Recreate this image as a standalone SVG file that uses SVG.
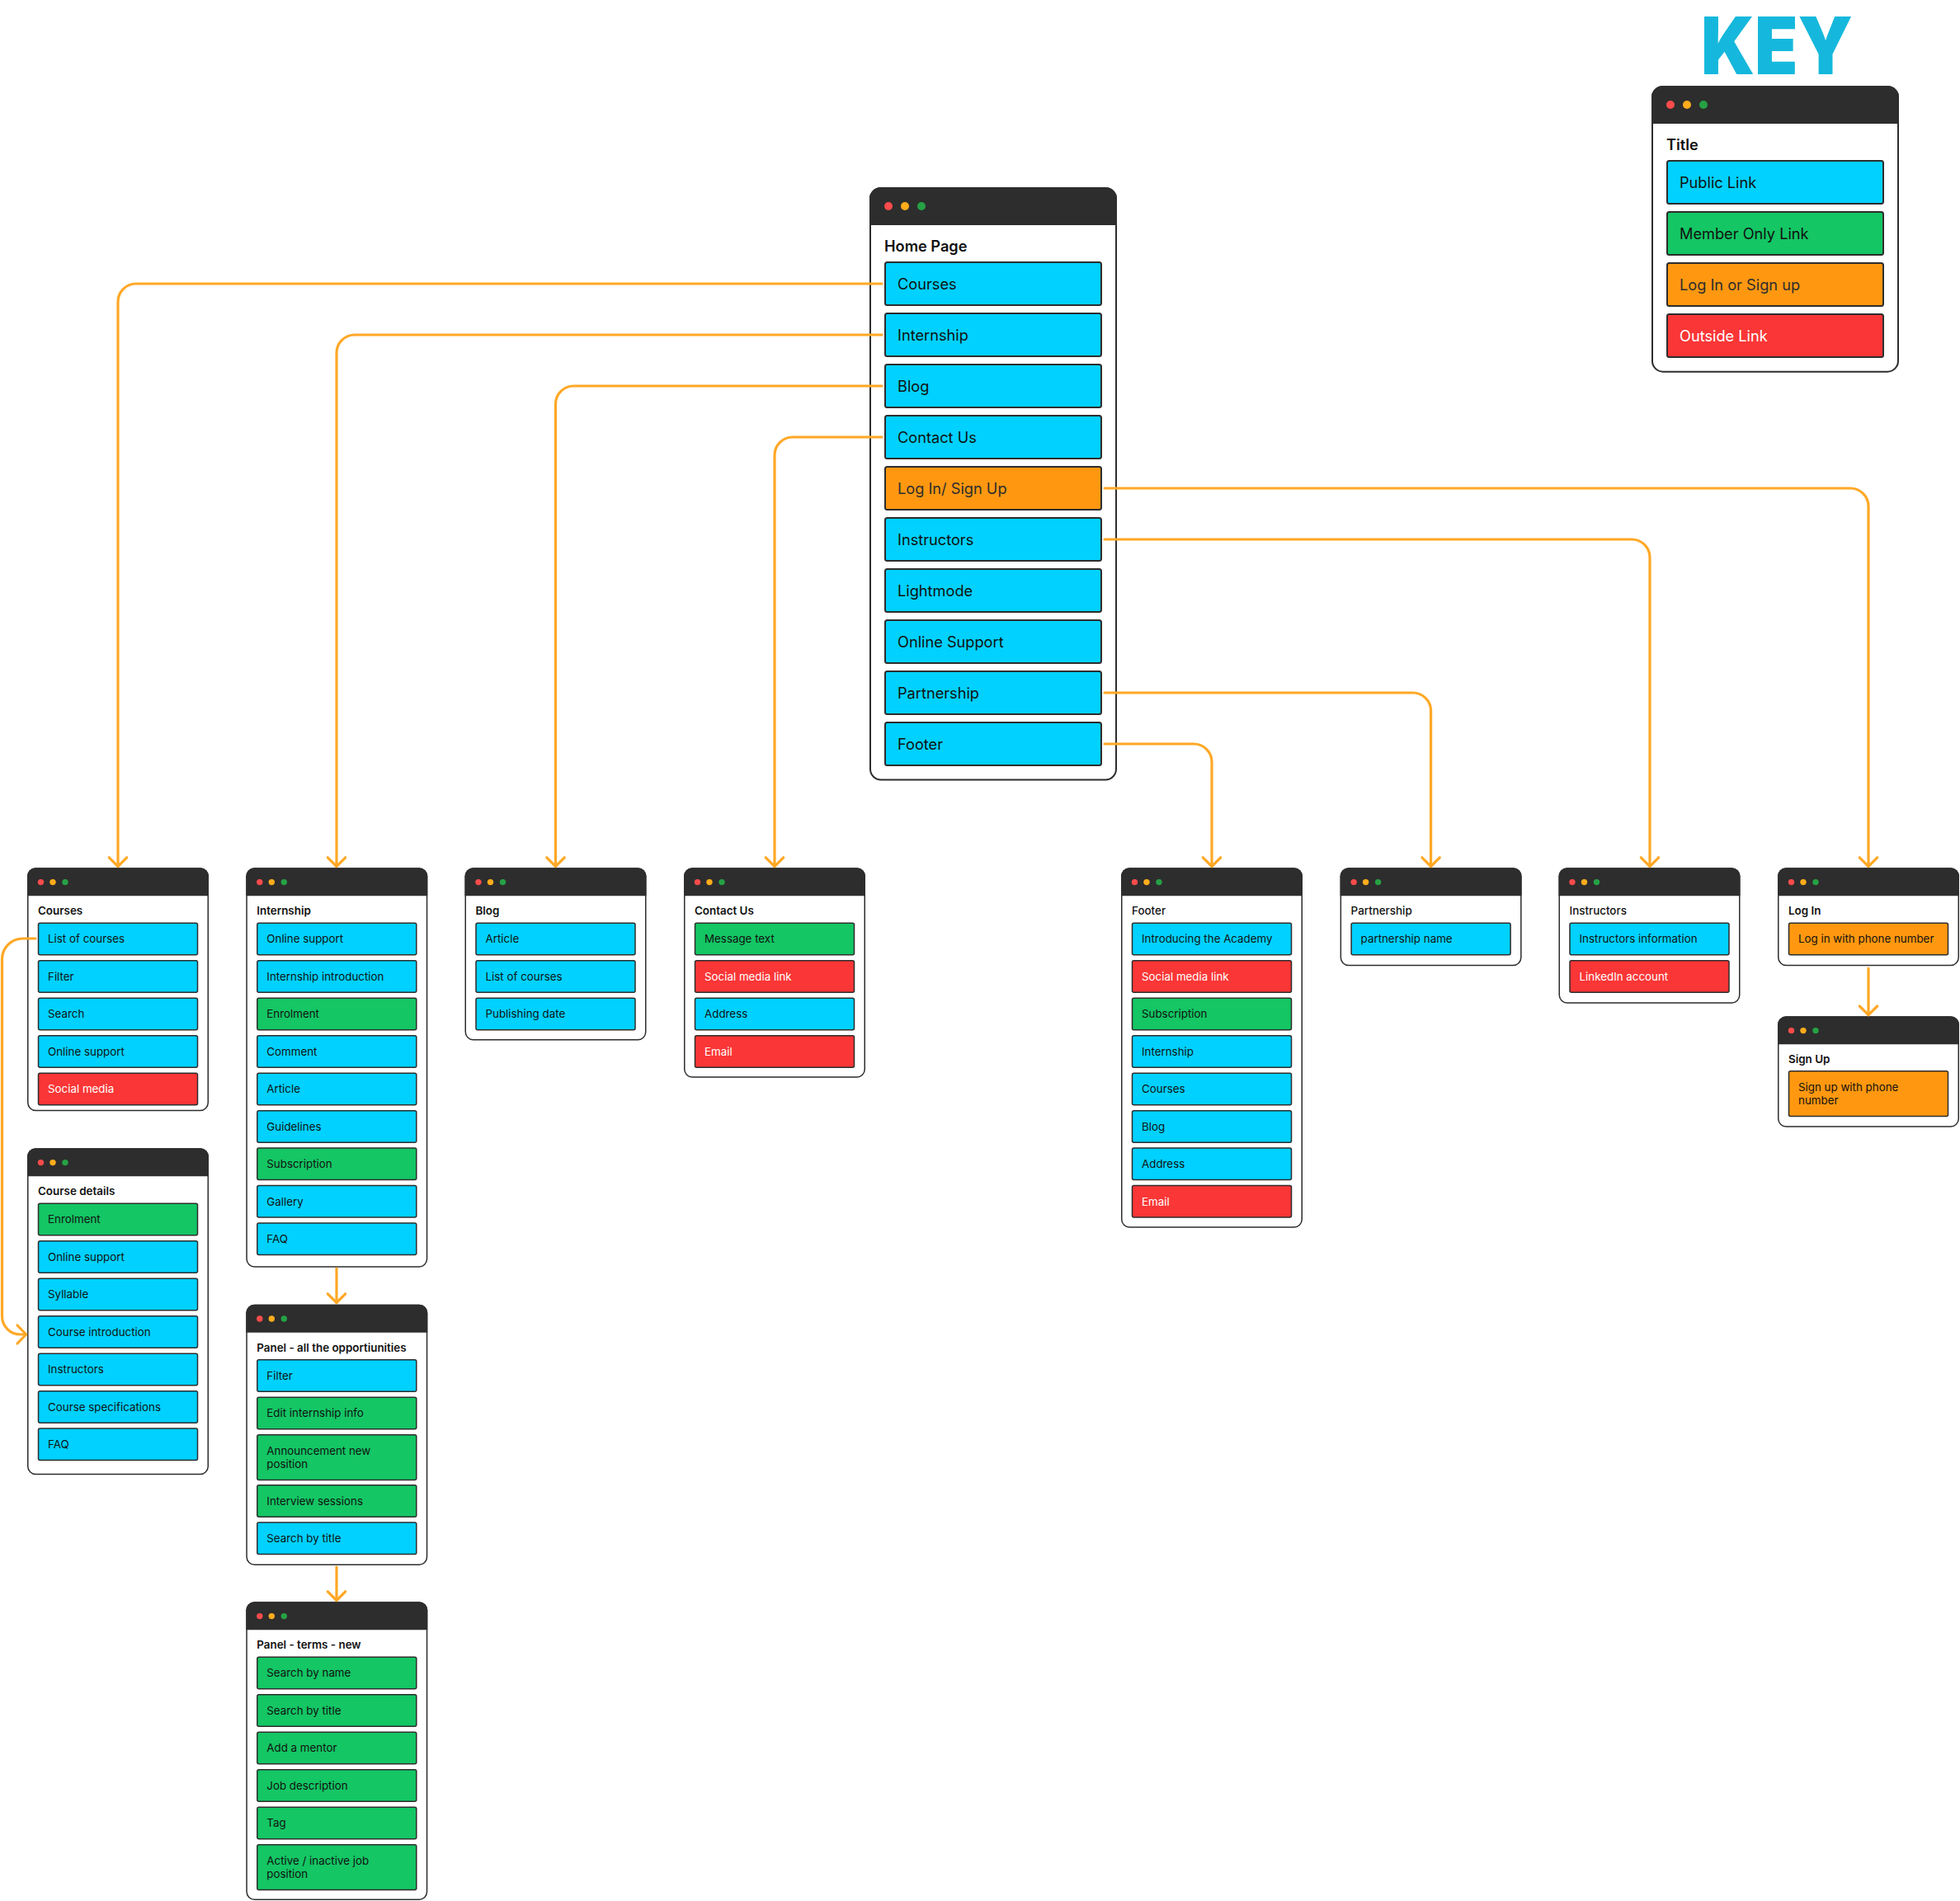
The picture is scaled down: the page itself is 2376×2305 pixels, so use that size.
<svg xmlns="http://www.w3.org/2000/svg" width="2376" height="2305" viewBox="0 0 2376 2305">
<style>
text{font-family:Inter,"Noto Sans","Liberation Sans",sans-serif;fill:#111}
.tt{font-size:13.4px;font-weight:600}
.m{font-weight:500}
.l{font-size:13.35px}
.T{font-size:18.2px;font-weight:600}
.L{font-size:18.2px}
.w{fill:#fff}
.k{fill:#2d2d2d}
.body{fill:#fff;stroke:#2d2d2d;stroke-width:1.5}
.Body{fill:#fff;stroke:#2d2d2d;stroke-width:2}
.i{width:193px;height:38.5px;rx:2px;stroke:#2d2d2d;stroke-width:1.5}
.d{height:54.7px}
.I{width:262px;height:52px;rx:2.5px;stroke:#2d2d2d;stroke-width:2}
.b{fill:#00d1ff}.g{fill:#14c664}.o{fill:#ff9810}.r{fill:#fa3636}
.c{fill:none;stroke:#ffa826;stroke-width:3.2;stroke-linecap:round;stroke-linejoin:round}
.e{marker-end:url(#a)}
</style>
<defs>
<marker id="a" markerUnits="userSpaceOnUse" markerWidth="30" markerHeight="30" refX="15" refY="15" orient="auto" overflow="visible"><path d="M4.300 4.300L15 15L4.300 25.700" fill="none" stroke="#ffa826" stroke-width="3.200" stroke-linecap="round" stroke-linejoin="round"/></marker>
<g id="hs"><path d="M0 34V10A10 10 0 0 1 10 0H210A10 10 0 0 1 220 10V34Z" fill="#2d2d2d"/><circle cx="16.500" cy="17.300" r="3.700" fill="#fb4b4b"/><circle cx="31" cy="17.300" r="3.700" fill="#ffac1c"/><circle cx="46" cy="17.300" r="3.700" fill="#26a144"/></g>
<g id="hb"><path d="M0 46V14A14 14 0 0 1 14 0H286A14 14 0 0 1 300 14V46Z" fill="#2d2d2d"/><circle cx="23" cy="23" r="5" fill="#fb4b4b"/><circle cx="43" cy="23" r="5" fill="#ffac1c"/><circle cx="63" cy="23" r="5" fill="#26a144"/></g>
</defs>

<text x="2062" y="90" textLength="184" lengthAdjust="spacingAndGlyphs" style="font-size:96px;font-weight:900;fill:#15b8dc">KEY</text>

<g id="node-home" transform="translate(1054,227)"><rect class="Body" x="1" y="1" width="298" height="717.500" rx="13"/><use href="#hb"/><text class="T" x="18" y="78">Home Page</text>
<rect class="I b" x="19" y="91"/><text class="L" x="34" y="124">Courses</text>
<rect class="I b" x="19" y="153"/><text class="L" x="34" y="186">Internship</text>
<rect class="I b" x="19" y="215"/><text class="L" x="34" y="248">Blog</text>
<rect class="I b" x="19" y="277"/><text class="L" x="34" y="310">Contact Us</text>
<rect class="I o" x="19" y="339"/><text class="L k" x="34" y="372">Log In/ Sign Up</text>
<rect class="I b" x="19" y="401"/><text class="L" x="34" y="434">Instructors</text>
<rect class="I b" x="19" y="463"/><text class="L" x="34" y="496">Lightmode</text>
<rect class="I b" x="19" y="525"/><text class="L" x="34" y="558">Online Support</text>
<rect class="I b" x="19" y="587"/><text class="L" x="34" y="620">Partnership</text>
<rect class="I b" x="19" y="649"/><text class="L" x="34" y="682">Footer</text>
</g>

<g id="node-key" transform="translate(2002,104)"><rect class="Body" x="1" y="1" width="298" height="345.700" rx="13"/><use href="#hb"/><text class="T" x="18" y="78">Title</text>
<rect class="I b" x="19" y="91"/><text class="L" x="34" y="124">Public Link</text>
<rect class="I g" x="19" y="153"/><text class="L" x="34" y="186">Member Only Link</text>
<rect class="I o" x="19" y="215"/><text class="L k" x="34" y="248">Log In or Sign up</text>
<rect class="I r" x="19" y="277"/><text class="L w" x="34" y="310">Outside Link</text>
</g>

<g id="node-courses" transform="translate(33,1052.300)"><rect class="body" x=".75" y=".75" width="218.500" height="293.500" rx="9.500"/><use href="#hs"/><text class="tt" x="13" y="57">Courses</text>
<rect class="i b" x="13.500" y="67"/><text class="l" x="25" y="91">List of courses</text>
<rect class="i b" x="13.500" y="112.500"/><text class="l" x="25" y="136.500">Filter</text>
<rect class="i b" x="13.500" y="158"/><text class="l" x="25" y="182">Search</text>
<rect class="i b" x="13.500" y="203.400"/><text class="l" x="25" y="227.400">Online support</text>
<rect class="i r" x="13.500" y="248.900"/><text class="l w" x="25" y="272.900">Social media</text>
</g>

<g id="node-course-details" transform="translate(33,1392.300)"><rect class="body" x=".75" y=".75" width="218.500" height="394.500" rx="9.500"/><use href="#hs"/><text class="tt" x="13" y="57">Course details</text>
<rect class="i g" x="13.500" y="67"/><text class="l" x="25" y="91">Enrolment</text>
<rect class="i b" x="13.500" y="112.500"/><text class="l" x="25" y="136.500">Online support</text>
<rect class="i b" x="13.500" y="158"/><text class="l" x="25" y="182">Syllable</text>
<rect class="i b" x="13.500" y="203.400"/><text class="l" x="25" y="227.400">Course introduction</text>
<rect class="i b" x="13.500" y="248.900"/><text class="l" x="25" y="272.900">Instructors</text>
<rect class="i b" x="13.500" y="294.400"/><text class="l" x="25" y="318.400">Course specifications</text>
<rect class="i b" x="13.500" y="339.800"/><text class="l" x="25" y="363.800">FAQ</text>
</g>

<g id="node-internship" transform="translate(298.300,1052.300)"><rect class="body" x=".75" y=".75" width="218.500" height="483" rx="9.500"/><use href="#hs"/><text class="tt" x="13" y="57">Internship</text>
<rect class="i b" x="13.500" y="67"/><text class="l" x="25" y="91">Online support</text>
<rect class="i b" x="13.500" y="112.500"/><text class="l" x="25" y="136.500">Internship introduction</text>
<rect class="i g" x="13.500" y="158"/><text class="l" x="25" y="182">Enrolment</text>
<rect class="i b" x="13.500" y="203.400"/><text class="l" x="25" y="227.400">Comment</text>
<rect class="i b" x="13.500" y="248.900"/><text class="l" x="25" y="272.900">Article</text>
<rect class="i b" x="13.500" y="294.400"/><text class="l" x="25" y="318.400">Guidelines</text>
<rect class="i g" x="13.500" y="339.800"/><text class="l" x="25" y="363.800">Subscription</text>
<rect class="i b" x="13.500" y="385.300"/><text class="l" x="25" y="409.300">Gallery</text>
<rect class="i b" x="13.500" y="430.800"/><text class="l" x="25" y="454.800">FAQ</text>
</g>

<g id="node-panel" transform="translate(298.300,1581.700)"><rect class="body" x=".75" y=".75" width="218.500" height="314.800" rx="9.500"/><use href="#hs"/><text class="tt" x="13" y="57">Panel - all the opportiunities</text>
<rect class="i b" x="13.500" y="67"/><text class="l" x="25" y="91">Filter</text>
<rect class="i g" x="13.500" y="112.500"/><text class="l" x="25" y="136.500">Edit internship info</text>
<rect class="i g d" x="13.500" y="158"/><text class="l" x="25" y="182.500">Announcement new</text><text class="l" x="25" y="198.500">position</text>
<rect class="i g" x="13.500" y="219"/><text class="l" x="25" y="243">Interview sessions</text>
<rect class="i b" x="13.500" y="264.200"/><text class="l" x="25" y="288.200">Search by title</text>
</g>

<g id="node-terms" transform="translate(298.300,1942.300)"><rect class="body" x=".75" y=".75" width="218.500" height="360.200" rx="9.500"/><use href="#hs"/><text class="tt" x="13" y="57">Panel - terms - new</text>
<rect class="i g" x="13.500" y="67"/><text class="l" x="25" y="91">Search by name</text>
<rect class="i g" x="13.500" y="112.500"/><text class="l" x="25" y="136.500">Search by title</text>
<rect class="i g" x="13.500" y="158"/><text class="l" x="25" y="182">Add a mentor</text>
<rect class="i g" x="13.500" y="203.400"/><text class="l" x="25" y="227.400">Job description</text>
<rect class="i g" x="13.500" y="248.900"/><text class="l" x="25" y="272.900">Tag</text>
<rect class="i g d" x="13.500" y="294.400"/><text class="l" x="25" y="318.900">Active / inactive job</text><text class="l" x="25" y="334.900">position</text>
</g>

<g id="node-blog" transform="translate(563.500,1052.300)"><rect class="body" x=".75" y=".75" width="218.500" height="207.800" rx="9.500"/><use href="#hs"/><text class="tt" x="13" y="57">Blog</text>
<rect class="i b" x="13.500" y="67"/><text class="l" x="25" y="91">Article</text>
<rect class="i b" x="13.500" y="112.500"/><text class="l" x="25" y="136.500">List of courses</text>
<rect class="i b" x="13.500" y="158"/><text class="l" x="25" y="182">Publishing date</text>
</g>

<g id="node-contact" transform="translate(829,1052.300)"><rect class="body" x=".75" y=".75" width="218.500" height="253" rx="9.500"/><use href="#hs"/><text class="tt" x="13" y="57">Contact Us</text>
<rect class="i g" x="13.500" y="67"/><text class="l" x="25" y="91">Message text</text>
<rect class="i r" x="13.500" y="112.500"/><text class="l w" x="25" y="136.500">Social media link</text>
<rect class="i b" x="13.500" y="158"/><text class="l" x="25" y="182">Address</text>
<rect class="i r" x="13.500" y="203.400"/><text class="l w" x="25" y="227.400">Email</text>
</g>

<g id="node-footer" transform="translate(1359,1052.300)"><rect class="body" x=".75" y=".75" width="218.500" height="435" rx="9.500"/><use href="#hs"/><text class="tt m" x="13" y="57">Footer</text>
<rect class="i b" x="13.500" y="67"/><text class="l" x="25" y="91">Introducing the Academy</text>
<rect class="i r" x="13.500" y="112.500"/><text class="l w" x="25" y="136.500">Social media link</text>
<rect class="i g" x="13.500" y="158"/><text class="l" x="25" y="182">Subscription</text>
<rect class="i b" x="13.500" y="203.400"/><text class="l" x="25" y="227.400">Internship</text>
<rect class="i b" x="13.500" y="248.900"/><text class="l" x="25" y="272.900">Courses</text>
<rect class="i b" x="13.500" y="294.400"/><text class="l" x="25" y="318.400">Blog</text>
<rect class="i b" x="13.500" y="339.800"/><text class="l" x="25" y="363.800">Address</text>
<rect class="i r" x="13.500" y="385.300"/><text class="l w" x="25" y="409.300">Email</text>
</g>

<g id="node-partnership" transform="translate(1624.600,1052.300)"><rect class="body" x=".75" y=".75" width="218.500" height="117.500" rx="9.500"/><use href="#hs"/><text class="tt m" x="13" y="57">Partnership</text>
<rect class="i b" x="13.500" y="67"/><text class="l" x="25" y="91">partnership name</text>
</g>

<g id="node-instructors" transform="translate(1889.500,1052.300)"><rect class="body" x=".75" y=".75" width="218.500" height="163" rx="9.500"/><use href="#hs"/><text class="tt m" x="13" y="57">Instructors</text>
<rect class="i b" x="13.500" y="67"/><text class="l" x="25" y="91">Instructors information</text>
<rect class="i r" x="13.500" y="112.500"/><text class="l w" x="25" y="136.500">LinkedIn account</text>
</g>

<g id="node-login" transform="translate(2155,1052.300)"><rect class="body" x=".75" y=".75" width="218.500" height="117.500" rx="9.500"/><use href="#hs"/><text class="tt" x="13" y="57">Log In</text>
<rect class="i o" x="13.500" y="67"/><text class="l" x="25" y="91">Log in with phone number</text>
</g>

<g id="node-signup" transform="translate(2155,1232.300)"><rect class="body" x=".75" y=".75" width="218.500" height="133" rx="9.500"/><use href="#hs"/><text class="tt" x="13" y="57">Sign Up</text>
<rect class="i o d" x="13.500" y="66.500"/><text class="l" x="25" y="91">Sign up with phone</text><text class="l" x="25" y="107">number</text>
</g>

<g id="connectors">
<path class="c e" d="M1069 344H165A22 22 0 0 0 143 366V1050.500"/>
<path class="c e" d="M1069 406H430A22 22 0 0 0 408 428V1050.500"/>
<path class="c e" d="M1069 468H695.500A22 22 0 0 0 673.500 490V1050.500"/>
<path class="c e" d="M1069 530H961A22 22 0 0 0 939 552V1050.500"/>
<path class="c e" d="M1339 592H2243A22 22 0 0 1 2265 614V1050.500"/>
<path class="c e" d="M1339 654H1978A22 22 0 0 1 2000 676V1050.500"/>
<path class="c e" d="M1339 840H1712.600A22 22 0 0 1 1734.600 862V1050.500"/>
<path class="c e" d="M1339 902H1447A22 22 0 0 1 1469 924V1050.500"/>
<path class="c" d="M43 1138H27.500A25 25 0 0 0 2.500 1163V1596A22 22 0 0 0 24.500 1618H31.500"/>
<path class="c" d="M21 1607L31.700 1618L21 1629"/>
<path class="c e" d="M408 1538V1579.500"/>
<path class="c e" d="M408 1900V1940.500"/>
<path class="c e" d="M2265 1174V1230.700"/>
</g>
</svg>
